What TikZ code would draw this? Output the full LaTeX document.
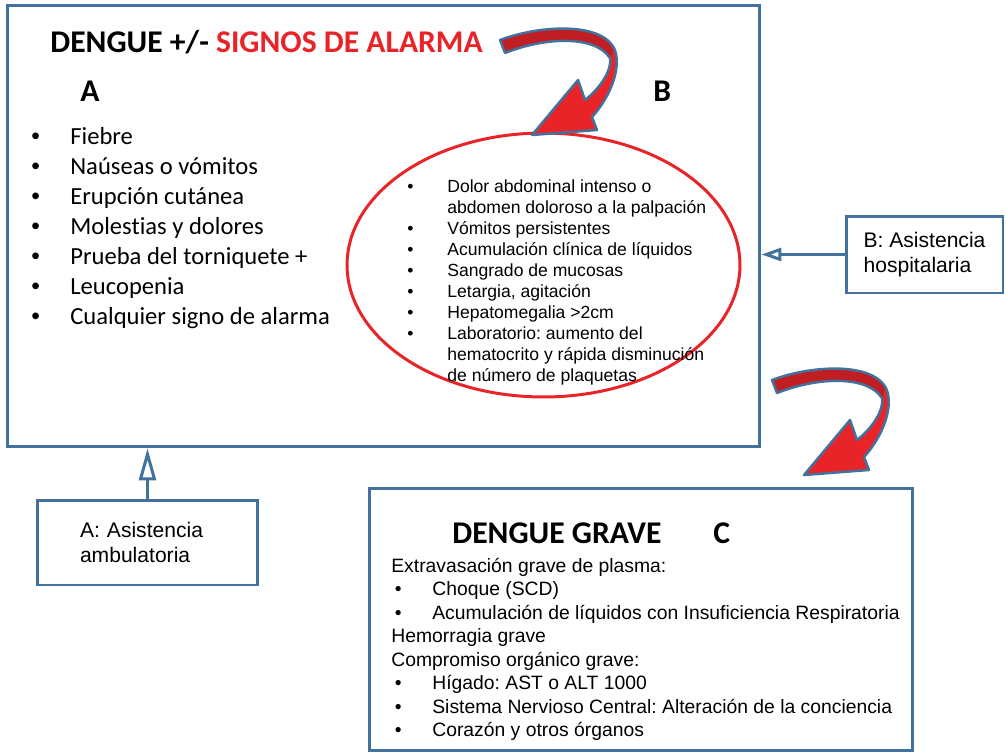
\documentclass[tikz,border=0pt]{standalone}
\usepackage{fontspec}
\setmainfont{Carlito}[Ligatures=CommonOff]
\newfontfamily\arialfont{Liberation Sans}
\usepackage{tikz}
\usetikzlibrary{arrows.meta,shapes.geometric}
\frenchspacing
\definecolor{cajaazul}{RGB}{65,113,156}
\definecolor{rojoalarma}{RGB}{232,36,40}
\definecolor{rojooscuro}{RGB}{192,30,34}
\newcommand\vineta{{\arialfont\textbullet}}
\tikzset{
  caja/.style={draw=cajaazul, line width=1.7pt, inner sep=0pt},
  nota/.style={caja, font=\arialfont\fontsize{12}{14.2}\selectfont, align=left},
  lista/.style={anchor=base west, inner sep=0pt},
  rotulo/.style={lista, font=\fontsize{18}{22}\selectfont\bfseries},
  flechaA/.style={draw=cajaazul, line width=1.7pt, -{Triangle[open, fill=white, length=0.64cm, width=0.34cm]}},
  flechaB/.style={draw=cajaazul, line width=1.7pt, -{Triangle[open, fill=white, length=0.4cm, width=0.26cm]}},
  bendarrow/.pic={
    \fill[rojoalarma] (0,0) .. controls (40,-15) and (100,-18) .. (114,8)
      .. controls (122,25) and (112,55) .. (92,77) -- (97,90) -- (32,95) -- (78,40) -- (85,60)
      .. controls (98,50) and (112,32) .. (110,18) .. controls (95,-5) and (45,-3) .. (5,13) -- cycle;
    \fill[rojooscuro] (0,0) .. controls (40,-15) and (100,-18) .. (114,8) -- (110,18)
      .. controls (95,-5) and (45,-3) .. (5,13) -- cycle;
    \draw[cajaazul, line width=1.4pt, line join=round] (0,0) .. controls (40,-15) and (100,-18) .. (114,8)
      .. controls (122,25) and (112,55) .. (92,77) -- (97,90) -- (32,95) -- (78,40) -- (85,60)
      .. controls (98,50) and (112,32) .. (110,18) .. controls (95,-5) and (45,-3) .. (5,13) -- cycle;
  }
}

\begin{document}
\begin{tikzpicture}[x=0.02cm, y=-0.02cm]
\useasboundingbox (0,0) rectangle (1006,753);

\node[caja, minimum width=15.06cm, minimum height=8.84cm] (signos) at (383.5,226) {};
\node[draw=rojoalarma, line width=1.7pt, ellipse, inner sep=0pt, minimum width=7.86cm, minimum height=5.28cm] (senales) at (543.5,265) {};

\node[rotulo] (titulo) at (50,53) {DENGUE +/- \textcolor{rojoalarma}{SIGNOS DE ALARMA}};
\node[rotulo] (letraA) at (80,102) {A};
\node[rotulo] (letraB) at (653,102) {B};

\node[lista, font=\fontsize{14}{17.07}\selectfont] (listaA) at (31,145) {%
\begin{tabular}[t]{@{}p{0.78cm}@{}l@{}}
\vineta & Fiebre\\
\vineta & Naúseas o vómitos\\
\vineta & Erupción cutánea\\
\vineta & Molestias y dolores\\
\vineta & Prueba del torniquete +\\
\vineta & Leucopenia\\
\vineta & Cualquier signo de alarma
\end{tabular}};

\node[lista, font=\arialfont\fontsize{10}{11.95}\selectfont] (listaB) at (407,193) {%
\begin{tabular}[t]{@{}p{0.8cm}@{}l@{}}
\textbullet & Dolor abdominal intenso o\\
 & abdomen doloroso a la palpación\\
\textbullet & Vómitos persistentes\\
\textbullet & Acumulación clínica de líquidos\\
\textbullet & Sangrado de mucosas\\
\textbullet & Letargia, agitación\\
\textbullet & Hepatomegalia >2cm\\
\textbullet & Laboratorio: aumento del\\
 & hematocrito y rápida disminución\\
 & de número de plaquetas
\end{tabular}};

\pic at (500,40) {bendarrow};
\pic at (772,380) {bendarrow};

\node[nota, minimum width=3.14cm, minimum height=1.54cm] (hosp) at (924.5,254.5) {B: Asistencia\\hospitalaria};
\draw[flechaB] (hosp.west) -- (hosp.west -| signos.east);

\node[nota, minimum width=4.42cm, minimum height=1.7cm, text width=2.7cm, inner xsep=0.86cm] (ambul) at (147.5,542.5) {A: Asistencia\\ambulatoria};
\draw[flechaA] (ambul.north) -- (ambul.north |- signos.south);

\node[caja, minimum width=10.88cm, minimum height=5.26cm] (grave) at (641,619.5) {};
\node[rotulo] (tituloC) at (452,543) {DENGUE GRAVE};
\node[rotulo] (letraC) at (713,543) {C};

\node[lista, font=\arialfont\fontsize{11}{13.41}\selectfont] (listaC) at (391,572) {%
\begin{tabular}[t]{@{}p{0.82cm}@{}l@{}}
\multicolumn{2}{@{}l@{}}{Extravasación grave de plasma:}\\
\hspace{2pt}\textbullet & Choque (SCD)\\
\hspace{2pt}\textbullet & Acumulación de líquidos con Insuficiencia Respiratoria\\
\multicolumn{2}{@{}l@{}}{Hemorragia grave}\\
\multicolumn{2}{@{}l@{}}{Compromiso orgánico grave:}\\
\hspace{2pt}\textbullet & Hígado: AST o ALT 1000\\
\hspace{2pt}\textbullet & Sistema Nervioso Central: Alteración de la conciencia\\
\hspace{2pt}\textbullet & Corazón y otros órganos
\end{tabular}};
\end{tikzpicture}
\end{document}
